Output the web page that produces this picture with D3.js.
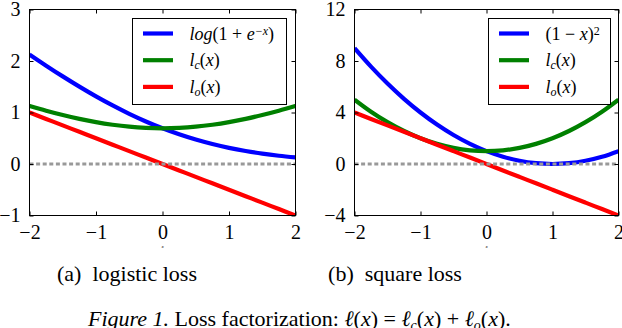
<!DOCTYPE html>
<html><head><meta charset="utf-8">
<script src="https://cdn.jsdelivr.net/npm/d3@7"></script>
<style>body{margin:0;background:#fff}svg{display:block}</style>
</head><body>
<svg id="c" width="622" height="328" font-family="Liberation Serif"></svg>
<script>
// sample points along x
const xs = [-2,-1.75,-1.5,-1.25,-1,-0.75,-0.5,-0.25,0,0.25,0.5,0.75,1,1.25,1.5,1.75,2];
// (a) logistic loss
const logisticLoss = [2.127,1.910,1.701,1.502,1.313,1.137,0.974,0.826,0.693,0.576,0.474,0.387,0.313,0.252,0.201,0.160,0.127];
const logisticLc   = [1.127,1.035,0.951,0.877,0.813,0.762,0.724,0.701,0.693,0.701,0.724,0.762,0.813,0.877,0.951,1.035,1.127];
const logisticLo   = [1,0.875,0.75,0.625,0.5,0.375,0.25,0.125,0,-0.125,-0.25,-0.375,-0.5,-0.625,-0.75,-0.875,-1];
// (b) square loss
const squareLoss = [9,7.5625,6.25,5.0625,4,3.0625,2.25,1.5625,1,0.5625,0.25,0.0625,0,0.0625,0.25,0.5625,1];
const squareLc   = [5,4.0625,3.25,2.5625,2,1.5625,1.25,1.0625,1,1.0625,1.25,1.5625,2,2.5625,3.25,4.0625,5];
const squareLo   = [4,3.5,3,2.5,2,1.5,1,0.5,0,-0.5,-1,-1.5,-2,-2.5,-3,-3.5,-4];
const xTicks = [-2,-1,0,1,2];
const yTicksA = [-1,0,1,2,3];
const yTicksB = [-4,0,4,8,12];
const captions = ["(a)  logistic loss", "(b)  square loss"];

const FONT = "Liberation Serif";
const svg = d3.select("#c");
const colors = ["#0000ff","#008000","#ff0000"];

function minus(v){ return String(v).replace("-", "\u2212"); }

function panel(id, x0, x1, yDom, yTicks, series, legendX0, legendX1, legendLabels){
  const top = 9.5, bottom = 215.5;
  const x = d3.scaleLinear().domain([-2,2]).range([x0, x1]);
  const y = d3.scaleLinear().domain(yDom).range([bottom, top]);
  const g = svg.append("g");
  g.append("clipPath").attr("id", id).append("rect")
    .attr("x", x0).attr("y", top).attr("width", x1-x0).attr("height", bottom-top);
  const line = d3.line().x((d,i)=>x(xs[i])).y(d=>y(d)).curve(d3.curveMonotoneX);
  const pg = g.append("g").attr("clip-path", `url(#${id})`);
  series.forEach((s,i)=>{
    pg.append("path").attr("d", line(s)).attr("fill","none")
      .attr("stroke", colors[i]).attr("stroke-width", 4.2);
  });
  pg.append("line").attr("x1", x(-2)).attr("x2", x(2)).attr("y1", y(0)).attr("y2", y(0))
    .attr("stroke", "#999").attr("stroke-width", 3).attr("stroke-dasharray", "4,2.6");
  const fmt = d=>minus(d);
  const ab = g.append("g").attr("transform", `translate(0,${bottom})`)
    .call(d3.axisBottom(x).tickValues(xTicks).tickSizeInner(-4).tickSizeOuter(0).tickPadding(9).tickFormat(fmt));
  const at = g.append("g").attr("transform", `translate(0,${top})`)
    .call(d3.axisTop(x).tickValues(xTicks).tickSizeInner(-4).tickSizeOuter(0).tickFormat(""));
  const al = g.append("g").attr("transform", `translate(${x0},0)`)
    .call(d3.axisLeft(y).tickValues(yTicks).tickSizeInner(-4).tickSizeOuter(0).tickPadding(9).tickFormat(fmt));
  const ar = g.append("g").attr("transform", `translate(${x1},0)`)
    .call(d3.axisRight(y).tickValues(yTicks).tickSizeInner(-4).tickSizeOuter(0).tickFormat(""));
  [ab,at,al,ar].forEach(a=>{
    a.select(".domain").remove();
    a.attr("font-family", FONT).attr("font-size", 20);
    a.selectAll("line").attr("stroke","#000");
    a.selectAll("text").attr("font-family", FONT).attr("font-size", 20).attr("fill","#000");
  });
  ab.selectAll("text").attr("dy", "0.71em");
  g.append("rect").attr("x", x0).attr("y", top).attr("width", x1-x0).attr("height", bottom-top)
    .attr("fill","none").attr("stroke","#000").attr("stroke-width",1);
  g.append("text").attr("x", (x0+x1)/2).attr("y", 248).attr("text-anchor","middle")
    .attr("font-family", FONT).attr("font-style","italic").attr("font-size", 5).text("x");
  g.append("rect").attr("x", legendX0).attr("y", 18.5).attr("width", legendX1-legendX0).attr("height", 86)
    .attr("fill","#fff").attr("stroke","#000").attr("stroke-width",1);
  legendLabels.forEach((lab,i)=>{
    const ly = 33.5 + i*26.7;
    g.append("line").attr("x1", legendX0+10.5).attr("x2", legendX0+40.5).attr("y1", ly).attr("y2", ly)
      .attr("stroke", colors[i]).attr("stroke-width", 4.2);
    const t = g.append("text").attr("x", legendX0+57).attr("y", ly+6)
      .attr("font-family", FONT).attr("font-size", 18);
    lab.forEach(p=>{
      const ts = t.append("tspan").text(p.t);
      if (p.i) ts.attr("font-style","italic");
      if (p.sup) ts.attr("baseline-shift","45%").attr("font-size", 12);
      if (p.sub) ts.attr("baseline-shift","-25%").attr("font-size", 12);
    });
  });
}

const lcLabel = [{t:"l",i:1},{t:"c",i:1,sub:1},{t:"("},{t:"x",i:1},{t:")"}];
const loLabel = [{t:"l",i:1},{t:"o",i:1,sub:1},{t:"("},{t:"x",i:1},{t:")"}];

panel("clipA", 29.5, 295.5, [-1,3], yTicksA, [logisticLoss, logisticLc, logisticLo], 132.5, 286.5, [
  [{t:"log",i:1},{t:"(1 + "},{t:"e",i:1},{t:"\u2212x",i:1,sup:1},{t:")"}],
  lcLabel, loLabel
]);
panel("clipB", 354.5, 618.5, [-4,12], yTicksB, [squareLoss, squareLc, squareLo], 488.5, 610.5, [
  [{t:"(1 \u2212 "},{t:"x",i:1},{t:")"},{t:"2",sup:1}],
  lcLabel, loLabel
]);

svg.append("text").attr("x", 127).attr("y", 281).attr("text-anchor","middle")
  .attr("font-family", FONT).attr("font-size", 22).attr("xml:space","preserve").text(captions[0]);
svg.append("text").attr("x", 395).attr("y", 281).attr("text-anchor","middle")
  .attr("font-family", FONT).attr("font-size", 22).attr("xml:space","preserve").text(captions[1]);
const fig = svg.append("text").attr("x", 88).attr("y", 326)
  .attr("font-family", FONT).attr("font-size", 22);
fig.append("tspan").attr("font-style","italic").text("Figure 1.");
fig.append("tspan").text(" Loss factorization: ");
fig.append("tspan").attr("font-style","italic").text("\u2113");
fig.append("tspan").text("(");
fig.append("tspan").attr("font-style","italic").text("x");
fig.append("tspan").text(") = ");
fig.append("tspan").attr("font-style","italic").text("\u2113");
fig.append("tspan").attr("font-style","italic").attr("font-size",14).attr("dy",4).text("c");
fig.append("tspan").attr("dy",-4).text("(");
fig.append("tspan").attr("font-style","italic").text("x");
fig.append("tspan").text(") + ");
fig.append("tspan").attr("font-style","italic").text("\u2113");
fig.append("tspan").attr("font-style","italic").attr("font-size",14).attr("dy",4).text("o");
fig.append("tspan").attr("dy",-4).text("(");
fig.append("tspan").attr("font-style","italic").text("x");
fig.append("tspan").text(").");
</script>
</body></html>
